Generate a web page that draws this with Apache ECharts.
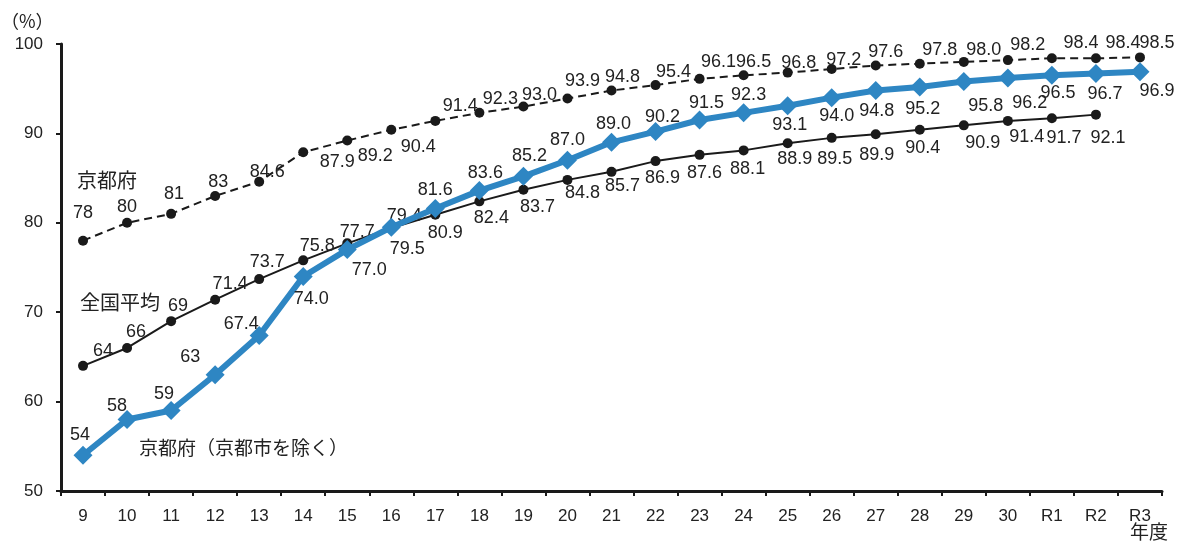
<!DOCTYPE html>
<html>
<head>
<meta charset="utf-8">
<script src="https://cdn.jsdelivr.net/npm/echarts@6/dist/echarts.min.js"></script>
<style>
html,body{margin:0;padding:0;background:#fff;}
#chart{width:1177px;height:541px;}
</style>
</head>
<body>
<div id="chart"></div>
<script>
// ---- data ----
var categories = ['9','10','11','12','13','14','15','16','17','18','19','20','21','22','23','24','25','26','27','28','29','30','R1','R2','R3'];
var kyotoValues = [78,80,81,83,84.6,87.9,89.2,90.4,91.4,92.3,93.0,93.9,94.8,95.4,96.1,96.5,96.8,97.2,97.6,97.8,98.0,98.2,98.4,98.4,98.5];
var kyotoLabels = ['78','80','81','83','84.6','87.9','89.2','90.4','91.4','92.3','93.0','93.9','94.8','95.4','96.1','96.5','96.8','97.2','97.6','97.8','98.0','98.2','98.4','98.4','98.5'];
var nationalValues = [64,66,69,71.4,73.7,75.8,77.7,79.4,80.9,82.4,83.7,84.8,85.7,86.9,87.6,88.1,88.9,89.5,89.9,90.4,90.9,91.4,91.7,92.1];
var nationalLabels = ['64','66','69','71.4','73.7','75.8','77.7','79.4','80.9','82.4','83.7','84.8','85.7','86.9','87.6','88.1','88.9','89.5','89.9','90.4','90.9','91.4','91.7','92.1'];
var exclValues = [54,58,59,63,67.4,74.0,77.0,79.5,81.6,83.6,85.2,87.0,89.0,90.2,91.5,92.3,93.1,94.0,94.8,95.2,95.8,96.2,96.5,96.7,96.9];
var exclLabels = ['54','58','59','63','67.4','74.0','77.0','79.5','81.6','83.6','85.2','87.0','89.0','90.2','91.5','92.3','93.1','94.0','94.8','95.2','95.8','96.2','96.5','96.7','96.9'];
var yTicks = {min:50, max:100, interval:10};
var seriesNames = ['京都府','全国平均','京都府(京都市を除く)'];

// ---- label placement (offset of label centre from its point) ----
var kyotoLabelOffset = [[0,-28],[0,-16],[3,-20],[3,-14],[8,-10],[34,10],[28,15],[27,17],[25,-15],[21,-14],[16,-12],[15,-18],[11,-13],[18,-13],[19,-17],[10,-13],[11,-10],[12,-9],[10,-13],[20,-14],[20,-12],[20,-15],[29,-15],[27,-15],[17,-14]];
var nationalLabelOffset = [[20,-15],[9,-16],[7,-15],[15,-16],[8,-17],[14,-14],[10,-11],[13,-12],[10,18],[12,17],[14,17],[15,13],[11,14],[7,17],[5,18],[4,19],[7,16],[3,21],[1,21],[3,18],[19,18],[19,16],[12,20],[12,23]];
var exclLabelOffset = [[-3,-20],[-10,-13],[-7,-17],[-25,-18],[-18,-11],[8,23],[22,20],[16,22],[0,-18],[6,-18],[6,-20],[0,-20],[2,-18],[7,-15],[7,-17],[5,-18],[2,19],[5,18],[1,21],[3,22],[22,24],[22,25],[6,18],[9,21],[17,19]];

var TXT = '#222';
var NUMFONT = '"Liberation Sans", Arial, sans-serif';
var JPFONT = '"Noto Sans CJK JP", sans-serif';

function build(values, labels, offsets){
  return values.map(function(v,i){
    return {
      value: v,
      label: {
        show: true,
        position: 'inside',
        offset: offsets[i],
        formatter: labels[i],
        color: TXT,
        fontSize: 18,
        fontFamily: NUMFONT,
        align: 'center',
        verticalAlign: 'middle'
      }
    };
  });
}

var chart = echarts.init(document.getElementById('chart'), null, {renderer:'canvas'});
var option = {
  animation: false,
  backgroundColor: '#fff',
  grid: {left:61, right:15, top:44, bottom:50, containLabel:false},
  xAxis: {
    type: 'category',
    data: categories,
    boundaryGap: true,
    axisLine: {show:true, lineStyle:{color:'#1a1a1a', width:3}},
    axisTick: {show:true, length:5, lineStyle:{color:'#1a1a1a', width:2}},
    axisLabel: {color:TXT, fontSize:17, fontFamily:NUMFONT, margin:17, interval:0},
    splitLine: {show:false}
  },
  yAxis: {
    type: 'value',
    min: yTicks.min, max: yTicks.max, interval: yTicks.interval,
    axisLine: {show:true, lineStyle:{color:'#1a1a1a', width:3}},
    axisTick: {show:true, length:5, lineStyle:{color:'#1a1a1a', width:2}},
    axisLabel: {color:TXT, fontSize:17, fontFamily:NUMFONT, margin:18},
    splitLine: {show:false}
  },
  graphic: [
    {type:'text', left:1, top:12, style:{text:'（%）', fill:TXT, font:'18px ' + JPFONT}},
    {type:'text', left:1130, top:522, style:{text:'年度', fill:TXT, font:'19px ' + JPFONT}},
    {type:'text', left:77, top:170, style:{text:seriesNames[0], fill:TXT, font:'20px ' + JPFONT}},
    {type:'text', left:80, top:292, style:{text:seriesNames[1], fill:TXT, font:'20px ' + JPFONT}},
    {type:'text', left:139, top:438, style:{text:'京都府（京都市を除く）', fill:TXT, font:'19px ' + JPFONT}}
  ],
  series: [
    {
      name: seriesNames[0],
      type: 'line',
      data: build(kyotoValues, kyotoLabels, kyotoLabelOffset),
      symbol: 'circle', symbolSize: 10,
      itemStyle: {color:'#1a1a1a'},
      lineStyle: {color:'#1a1a1a', width:2, type:[8,5]},
      z: 2
    },
    {
      name: seriesNames[1],
      type: 'line',
      data: build(nationalValues, nationalLabels, nationalLabelOffset),
      symbol: 'circle', symbolSize: 10,
      itemStyle: {color:'#1a1a1a'},
      lineStyle: {color:'#1a1a1a', width:2},
      z: 3
    },
    {
      name: seriesNames[2],
      type: 'line',
      data: build(exclValues, exclLabels, exclLabelOffset),
      symbol: 'diamond', symbolSize: [19,19],
      itemStyle: {color:'#2e86c3'},
      lineStyle: {color:'#2e86c3', width:6},
      z: 4
    }
  ]
};
chart.setOption(option);
</script>
</body>
</html>
